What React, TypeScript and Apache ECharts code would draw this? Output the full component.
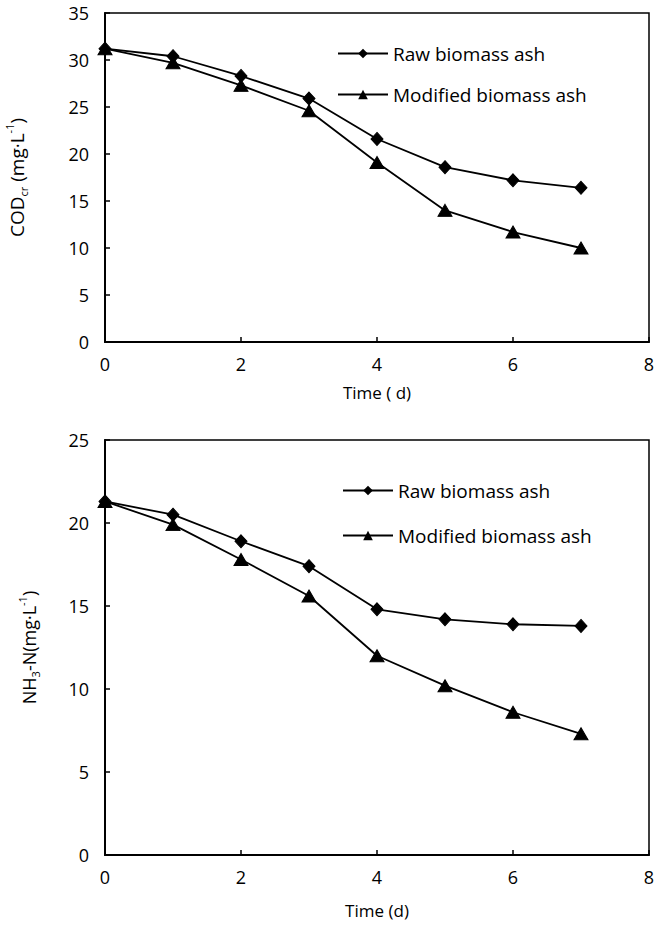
import React, { useEffect, useRef } from "react";
import * as echarts from "echarts";

const days = [0, 1, 2, 3, 4, 5, 6, 7];
const seriesNames = ["Raw biomass ash", "Modified biomass ash"];
const codRaw = [31.2, 30.4, 28.3, 25.9, 21.6, 18.6, 17.2, 16.4];
const codModified = [31.2, 29.7, 27.3, 24.6, 19.1, 14.0, 11.7, 10.0];
const nhRaw = [21.3, 20.5, 18.9, 17.4, 14.8, 14.2, 13.9, 13.8];
const nhModified = [21.3, 19.9, 17.8, 15.6, 12.0, 10.2, 8.6, 7.3];

const FONT = "Open Sans";

const pair = (vals: number[]) => days.map((d, i) => [d, vals[i]]);

export default function App() {
  const ref = useRef<HTMLDivElement>(null);
  useEffect(() => {
    if (!ref.current) return;
    const chart = echarts.init(ref.current, undefined, { renderer: "svg" });
    const axisLine = { show: true, lineStyle: { color: "#000", width: 2 } };
    const axisTick = { show: true, inside: true, length: 5, lineStyle: { color: "#000", width: 1.5 } };
    const labelStyle = { color: "#000", fontSize: 18, fontFamily: FONT };
    const richFor = (size: number) => ({
      a: { fontSize: size, fontFamily: FONT, color: "#000", lineHeight: size + 6 },
      sub: { fontSize: 11, fontFamily: FONT, color: "#000", verticalAlign: "bottom", lineHeight: 11 },
      sup: { fontSize: 11, fontFamily: FONT, color: "#000", verticalAlign: "top", lineHeight: 11 },
    });
    const xAxisBase = (gridIndex: number, name: string, gap: number) => ({
      type: "value",
      gridIndex,
      min: 0,
      max: 8,
      interval: 2,
      name,
      nameLocation: "middle",
      nameGap: gap,
      nameTextStyle: { color: "#000", fontSize: 17, fontFamily: FONT },
      axisLine,
      axisTick,
      splitLine: { show: false },
      axisLabel: { ...labelStyle, margin: 13 },
    });
    const yAxisBase = (gridIndex: number, max: number, name: string, gap: number, size: number) => ({
      type: "value",
      gridIndex,
      min: 0,
      max,
      interval: 5,
      name,
      nameLocation: "middle",
      nameGap: gap,
      nameTextStyle: { color: "#000", fontSize: size, fontFamily: FONT, rich: richFor(size) },
      axisLine,
      axisTick,
      splitLine: { show: false },
      axisLabel: { ...labelStyle, margin: 16 },
    });
    const lineSeries = (name: string, idx: number, vals: number[], symbol: string, size: any) => ({
      type: "line",
      name,
      xAxisIndex: idx,
      yAxisIndex: idx,
      data: pair(vals),
      symbol,
      symbolSize: size,
      showAllSymbol: true,
      lineStyle: { color: "#000", width: 1.8 },
      itemStyle: { color: "#000", borderColor: "#000" },
      z: symbol === "diamond" ? 3 : 2,
    });
    const legendBase = (left: number, top: number, gap: number) => ({
      data: seriesNames,
      orient: "vertical",
      left,
      top,
      itemWidth: 50,
      itemHeight: 12,
      itemGap: gap,
      textStyle: { color: "#000", fontSize: 19, fontFamily: FONT },
      selectedMode: false,
    });
    const gridBase = { left: 105, right: 15, show: true, borderColor: "#000", borderWidth: 1.5, backgroundColor: "transparent", containLabel: false, outerBoundsMode: "none" };
    chart.setOption({
      animation: false,
      backgroundColor: "#fff",
      grid: [
        { ...gridBase, top: 13, height: 329 },
        { ...gridBase, top: 440, height: 415 },
      ],
      legend: [legendBase(332, 39, 22), legendBase(337, 476, 26)],
      xAxis: [xAxisBase(0, "Time ( d)", 42), xAxisBase(1, "Time (d)", 47)],
      yAxis: [
        yAxisBase(0, 35, "{a|COD}{sub|cr}{a| (mg·L}{sup|-1}{a|)}", 76, 19),
        yAxisBase(1, 25, "{a|NH}{sub|3}{a|-N(mg·L}{sup|-1}{a|)}", 64, 18),
      ],
      series: [
        lineSeries(seriesNames[0], 0, codRaw, "diamond", [12, 13]),
        lineSeries(seriesNames[1], 0, codModified, "triangle", [14, 12]),
        lineSeries(seriesNames[0], 1, nhRaw, "diamond", [12, 13]),
        lineSeries(seriesNames[1], 1, nhModified, "triangle", [14, 12]),
      ],
    });
    return () => chart.dispose();
  }, []);
  return (
    <div
      ref={ref}
      style={{ position: "fixed", left: 0, top: 0, width: 664, height: 927, background: "#fff" }}
    />
  );
}
